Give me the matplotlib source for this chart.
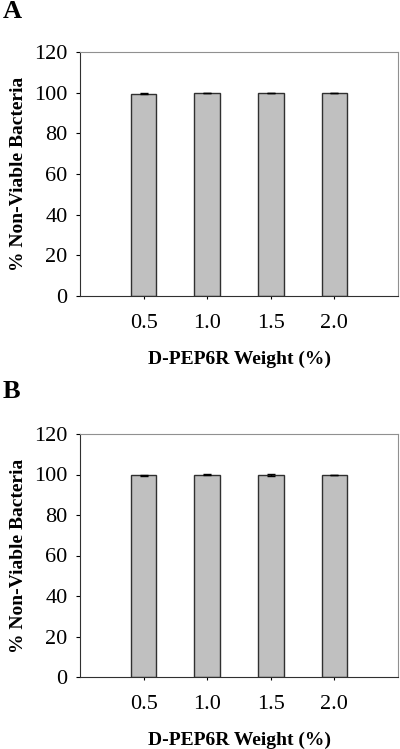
import matplotlib.pyplot as plt
import numpy as np

# data
weights = ['0.5', '1.0', '1.5', '2.0']
nonviable_a = [99.5, 99.9, 99.9, 99.9]
err_a = [0.3, 0.1, 0.1, 0.1]
nonviable_b = [99.6, 99.9, 99.8, 99.9]
err_b = [0.1, 0.3, 0.3, 0.1]

plt.rcParams['font.family'] = ['Liberation Serif', 'DejaVu Serif']

fig = plt.figure(figsize=(4, 7.49), dpi=100)
W, H = 400, 749


def panel(bottom_px, top_px, values, errors, letter, letter_y):
    ax = fig.add_axes([80 / W, 1 - bottom_px / H, 318 / W, (bottom_px - top_px) / H])
    x = np.arange(1, len(weights) + 1)
    ax.bar(x, values, width=0.4, color='#c0c0c0', edgecolor='#303030', linewidth=1.0,
           yerr=errors, error_kw=dict(ecolor='black', elinewidth=1, capsize=3, capthick=1))
    ax.set_xlim(0, 5)
    ax.set_ylim(0, 120)
    ax.set_yticks(range(0, 121, 20))
    ax.set_xticks(x)
    ax.set_xticklabels(weights)
    ax.tick_params(axis='y', direction='out', length=3, labelsize=16, pad=6)
    ax.tick_params(axis='x', direction='out', length=2, labelsize=16, pad=11)
    for s in ['top', 'right']:
        ax.spines[s].set_color('#909090')
    for s in ['left', 'bottom']:
        ax.spines[s].set_color('#303030')
    ax.set_ylabel('% Non-Viable Bacteria', fontsize=14, fontweight='bold', labelpad=5)
    ax.set_xlabel('D-PEP6R Weight (%)', fontsize=14, fontweight='bold', labelpad=13)
    fig.text(3 / W, 1 - letter_y / H, letter, fontsize=19, fontweight='bold', va='center', ha='left')
    return ax


panel(296, 52, nonviable_a, err_a, 'A', 11)
panel(677, 434, nonviable_b, err_b, 'B', 391)

fig.savefig('out.png', dpi=100)
